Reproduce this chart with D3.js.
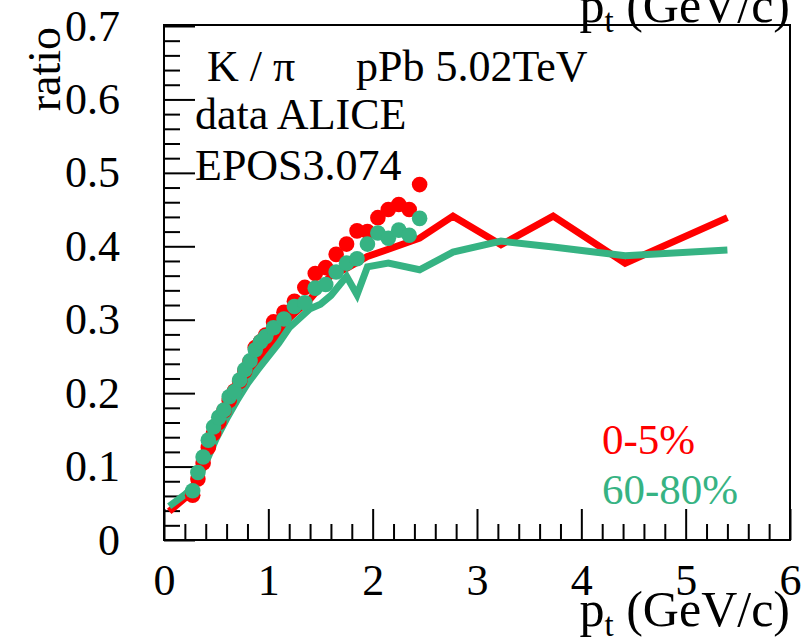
<!DOCTYPE html>
<html><head><meta charset="utf-8">
<script src="https://cdn.jsdelivr.net/npm/d3@7"></script>
<style>body{margin:0;background:#fff}svg{display:block}text{font-family:"Liberation Serif","Times New Roman",serif}</style>
</head><body>
<script>
// ALICE data points (pt, K/pi)
const dataPt = [0.275,0.325,0.375,0.425,0.475,0.525,0.575,0.625,0.675,0.725,0.775,0.825,0.875,0.925,0.975,1.05,1.15,1.25,1.35,1.45,1.55,1.65,1.75,1.85,1.95,2.05,2.15,2.25,2.35,2.45];
const data0_5 = [0.061,0.083,0.105,0.126,0.145,0.160,0.176,0.190,0.203,0.216,0.230,0.243,0.262,0.270,0.279,0.297,0.310,0.325,0.344,0.363,0.371,0.389,0.403,0.421,0.420,0.439,0.450,0.457,0.450,0.484];
const data60_80 = [0.067,0.092,0.113,0.136,0.154,0.167,0.177,0.195,0.202,0.218,0.232,0.244,0.259,0.270,0.277,0.289,0.301,0.318,0.323,0.343,0.348,0.365,0.377,0.383,0.403,0.418,0.411,0.422,0.415,0.438];
// EPOS curves
const eposPt = [0.05,0.2,0.3,0.4,0.5,0.6,0.7,0.8,0.9,1.0,1.1,1.2,1.3,1.4,1.5,1.6,1.75,1.85,1.95,2.15,2.45,2.77,3.23,3.73,4.42,5.4];
const epos0_5 = [0.039,0.057,0.078,0.110,0.142,0.170,0.195,0.218,0.243,0.262,0.280,0.302,0.315,0.328,0.345,0.360,0.370,0.378,0.386,0.396,0.411,0.441,0.402,0.441,0.377,0.439];
const epos60_80 = [0.046,0.062,0.075,0.105,0.138,0.165,0.190,0.213,0.232,0.250,0.268,0.289,0.302,0.315,0.321,0.333,0.359,0.334,0.372,0.377,0.368,0.392,0.407,0.399,0.387,0.395];
const xMajor = [0,1,2,3,4,5,6];
const yMajor = [0,0.1,0.2,0.3,0.4,0.5,0.6,0.7];
const yLabels = ["0","0.1","0.2","0.3","0.4","0.5","0.6","0.7"];
const legendLabels = ["0-5%","60-80%"];
const infoLines = ["data ALICE","EPOS3.074"];

const W=808,H=643;
const red="#ff0000", green="#36b383";
const svg=d3.select("body").append("svg").attr("width",W).attr("height",H);
const x=d3.scaleLinear().domain([0,6]).range([164,790]);
const y=d3.scaleLinear().domain([0,0.7]).range([540,26]);

// minor ticks
const xMinor=d3.range(0,6.001,0.2).filter(v=>Math.abs(v-Math.round(v))>1e-6);
const yMinor=d3.range(0,0.7001,0.02).filter(v=>Math.abs(v*10-Math.round(v*10))>1e-6);

const gx=svg.append("g").attr("transform",`translate(0,540)`)
  .call(d3.axisBottom(x).tickValues(xMinor).tickSize(-16).tickFormat(""));
const gx2=svg.append("g").attr("transform",`translate(0,540)`)
  .call(d3.axisBottom(x).tickValues(xMajor).tickSize(-31).tickPadding(24).tickFormat(d3.format("d")));
const gy=svg.append("g").attr("transform",`translate(164,0)`)
  .call(d3.axisLeft(y).tickValues(yMinor).tickSize(-16).tickFormat(""));
const gy2=svg.append("g").attr("transform",`translate(164,0)`)
  .call(d3.axisLeft(y).tickValues(yMajor).tickSize(-31).tickPadding(44).tickFormat((d,i)=>yLabels[i]));
[gx,gx2,gy,gy2].forEach(g=>{
  g.select(".domain").remove();
  g.selectAll("line").attr("stroke","#000").attr("stroke-width",2);
  g.selectAll("text").attr("font-size",44).attr("fill","#000").style("font-family",'"Liberation Serif",serif');
});

// frame
svg.append("rect").attr("x",164).attr("y",25).attr("width",626).attr("height",515)
  .attr("fill","none").attr("stroke","#000").attr("stroke-width",2);

// EPOS lines
const line=d3.line().x(d=>x(d[0])).y(d=>y(d[1]));
[[epos0_5,red],[epos60_80,green]].forEach(([vals,c])=>{
  svg.append("path").datum(eposPt.map((p,i)=>[p,vals[i]]))
    .attr("d",line).attr("fill","none").attr("stroke",c).attr("stroke-width",7).attr("stroke-linejoin","miter");
});
// data points
[[data0_5,red],[data60_80,green]].forEach(([vals,c])=>{
  svg.append("g").selectAll("circle").data(dataPt.map((p,i)=>[p,vals[i]])).join("circle")
    .attr("cx",d=>x(d[0])).attr("cy",d=>y(d[1])).attr("r",7.8).attr("fill",c);
});

// texts
svg.append("text").attr("x",207).attr("y",81).attr("font-size",44).text("K / π");
svg.append("text").attr("x",356).attr("y",81).attr("font-size",44).text("pPb 5.02TeV");
infoLines.forEach((s,i)=>svg.append("text").attr("x",195).attr("y",129+i*51).attr("font-size",44).text(s));

// legend
[[legendLabels[0],red],[legendLabels[1],green]].forEach(([s,c],i)=>{
  svg.append("text").attr("x",602).attr("y",454+i*50).attr("font-size",43).attr("fill",c).text(s);
});

// axis titles
function ptTitle(yb){
  const t=svg.append("text").attr("x",790).attr("y",yb).attr("text-anchor","end").attr("font-size",50);
  t.append("tspan").text("p");
  t.append("tspan").attr("font-size",33).attr("dy",10).text("t");
  t.append("tspan").attr("dy",-10).text(" (GeV/c)");
}
ptTitle(626);
ptTitle(22);
svg.append("text").attr("transform","translate(60,27) rotate(-90)").attr("text-anchor","end")
  .attr("font-size",46).text("ratio");
</script>
</body></html>
